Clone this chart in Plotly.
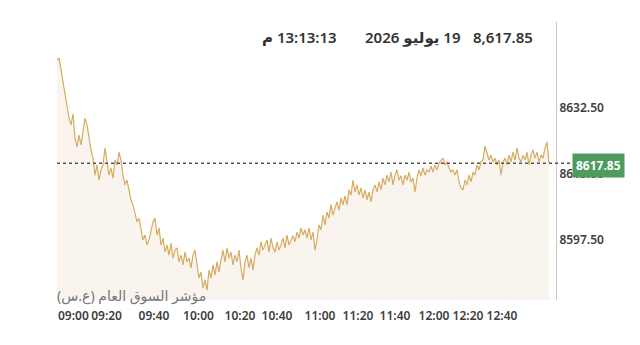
import plotly.graph_objects as go

# index values (one reading every ~2 px, 09:00 -> ~13:05)
values = [
    8645.2, 8645.8, 8642.6, 8639.4, 8635.9, 8632.5, 8629.8, 8628.0, 8630.9, 8624.5,
    8622.2, 8625.3, 8622.7, 8626.1, 8629.8, 8628.0, 8624.5, 8621.4, 8619.2, 8614.7,
    8617.4, 8613.4, 8616.1, 8617.4, 8621.9, 8618.7, 8614.7, 8616.6, 8613.9, 8618.7,
    8617.4, 8620.8, 8618.7, 8614.7, 8612.1, 8613.4, 8610.8, 8608.1, 8606.8, 8604.9,
    8602.3, 8603.3, 8600.2, 8597.5, 8598.8, 8596.2, 8597.5,
    8599.6, 8602.3, 8603.3, 8598.8, 8600.7, 8596.2, 8598.0, 8594.3, 8596.2, 8593.5,
    8596.7, 8592.7, 8594.8, 8595.4, 8591.7, 8593.5, 8590.9, 8594.3, 8591.7, 8592.7,
    8590.1, 8593.5, 8594.8, 8590.9, 8587.4, 8589.0, 8584.8, 8586.9, 8584.2, 8589.5,
    8587.4, 8590.9, 8588.2, 8591.7, 8589.0, 8592.2, 8594.8, 8591.7, 8595.4, 8592.7,
    8594.3, 8590.9, 8593.5, 8591.7, 8594.8, 8590.1, 8586.9, 8591.7, 8593.5, 8590.1,
    8592.7, 8589.5, 8593.5,
    8595.4, 8593.5, 8597.0, 8594.8, 8596.2, 8597.5, 8594.3, 8598.0, 8595.4, 8594.3,
    8597.0, 8594.8, 8596.2, 8598.0, 8595.4, 8598.8, 8596.2, 8597.5, 8598.6, 8597.0,
    8599.6, 8598.0, 8600.7, 8598.8, 8600.2, 8598.0, 8600.7, 8597.5, 8599.6, 8594.8,
    8597.5, 8601.5, 8600.2, 8604.1, 8601.5, 8604.9, 8603.3, 8606.8, 8604.1, 8606.0,
    8607.6, 8605.4, 8608.6, 8606.8, 8609.2, 8606.8, 8610.8, 8609.4, 8613.4, 8610.2,
    8612.1, 8609.4, 8611.3, 8608.6, 8610.8, 8608.1, 8610.2, 8607.6, 8610.8, 8612.1,
    8610.2, 8612.9, 8610.8, 8613.9, 8612.1, 8614.7, 8612.9, 8615.5, 8612.1, 8614.7,
    8616.1, 8613.4, 8614.5, 8612.1, 8614.7, 8613.4, 8615.5, 8612.9, 8613.9, 8610.2,
    8613.9, 8616.1, 8614.5, 8616.6, 8614.7, 8616.1, 8615.5, 8617.1, 8615.5, 8617.4,
    8616.1, 8617.9, 8618.7, 8619.2, 8617.4, 8618.2, 8616.6, 8615.5, 8616.1, 8614.7,
    8616.1, 8612.9, 8611.3, 8610.8, 8613.4, 8612.1, 8614.7, 8612.9, 8615.5, 8614.7,
    8617.4, 8616.1, 8618.2, 8618.7, 8622.4, 8620.8, 8618.7, 8620.0, 8618.2, 8619.2,
    8617.4, 8618.7, 8614.7, 8618.2, 8619.2, 8617.4, 8620.0, 8618.2, 8620.8, 8618.7,
    8621.9, 8619.2, 8618.2, 8620.0, 8618.7, 8620.8, 8617.4, 8620.0, 8621.4, 8619.2,
    8620.8, 8618.2, 8620.0, 8619.2, 8621.9, 8623.5, 8617.85,
]

last_value = 8617.85
tick_labels = ["09:00", "09:20", "09:40", "10:00", "10:20", "10:40",
               "11:00", "11:20", "11:40", "12:00", "12:20", "12:40"]
tick_index = [8.2, 24.8, 48.5, 70.75, 91.5, 110, 131.5, 150.5, 169, 188.5, 205.5, 222.5]
y_ticks = [8597.5, 8615.0, 8632.5]

title_price = "8,617.85"
title_date = "19 يوليو 2026"
title_time = "13:13:13 م"
index_name = "مؤشر السوق العام (ع.س)"

RLE, PDF = "\u202B", "\u202C"

fig = go.Figure()
fig.add_trace(go.Scatter(
    x=list(range(len(values))), y=values, mode="lines",
    line=dict(color="#d6ac63", width=1.2),
    fill="tozeroy", fillcolor="#faf4ee",
    hoverinfo="skip", showlegend=False,
))

tick_font = dict(family="Noto Sans, DejaVu Sans", size=12, color="#3d3d3d", weight=600)

fig.update_layout(
    width=640, height=345,
    margin=dict(l=57, r=84, t=22, b=45),
    paper_bgcolor="white", plot_bgcolor="white",
    xaxis=dict(range=[0, 249.5], tickmode="array", tickvals=tick_index,
               ticktext=tick_labels, tickangle=0, showgrid=False, zeroline=False,
               showline=False, ticks="", tickfont=tick_font, ticklabelstandoff=7),
    yaxis=dict(range=[8581.58, 8655.3], side="right", tickmode="array",
               tickvals=y_ticks, ticktext=[f"{v:.2f}" for v in y_ticks],
               showgrid=False, zeroline=False, showline=True,
               linecolor="#c8c8c8", linewidth=1, ticks="", tickfont=tick_font),
    font=dict(family="Noto Sans, DejaVu Sans"),
)

fig.add_shape(type="line", xref="paper", yref="y", x0=0, x1=1.032,
              y0=last_value, y1=last_value,
              line=dict(color="#555555", width=1.5, dash="dot"))

fig.add_annotation(xref="paper", yref="y", x=1, y=last_value, xanchor="left",
                   yanchor="middle", xshift=16, yshift=-2, showarrow=False,
                   text=f"{last_value:.2f}", bgcolor="#4e9b5e", borderpad=3,
                   font=dict(family="Noto Sans", size=12, color="white", weight=700))

title_font = dict(family="Noto Sans, DejaVu Sans", size=15, color="#333333", weight=600)
for txt, xp in [(title_price, 0.958), (title_date, 0.8136), (title_time, 0.5651)]:
    fig.add_annotation(xref="paper", yref="paper", x=xp, y=0.946, xanchor="right",
                       yanchor="middle", showarrow=False, text=RLE + txt + PDF,
                       font=title_font)

fig.add_annotation(xref="paper", yref="paper", x=0.3026, y=0.015, xanchor="right",
                   yanchor="middle", showarrow=False, text=RLE + index_name + PDF,
                   font=dict(family="Noto Sans, DejaVu Sans", size=14, color="#777777"))

fig.write_html("out.html")
